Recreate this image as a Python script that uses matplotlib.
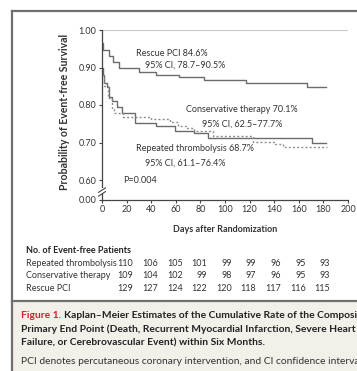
import matplotlib
matplotlib.use("Agg")
import matplotlib.pyplot as plt
from matplotlib.transforms import blended_transform_factory
from matplotlib.lines import Line2D
from matplotlib.patches import Rectangle

plt.rcParams["font.family"] = ["Lato", "DejaVu Sans"]

# Kaplan-Meier curves
rescue_days = [0, 0.5, 6, 9, 14, 30, 44, 63, 83, 117, 167, 182]
rescue_surv = [0.965, 0.947, 0.93, 0.915, 0.898, 0.889, 0.88, 0.874, 0.868, 0.859, 0.847, 0.847]

thromb_days = [0, 1, 2, 4, 6, 8, 12, 16, 27, 44, 59, 75, 86, 171, 182]
thromb_surv = [0.90, 0.88, 0.86, 0.848, 0.822, 0.81, 0.795, 0.778, 0.751, 0.744, 0.731, 0.725, 0.713, 0.70, 0.70]

conserv_days = [0, 2, 5, 8, 10, 17, 40, 55, 62, 68, 75, 90, 123, 141, 147, 183]
conserv_surv = [0.88, 0.85, 0.82, 0.79, 0.78, 0.769, 0.763, 0.755, 0.745, 0.738, 0.731, 0.717, 0.702, 0.696, 0.687, 0.687]

# number at risk table
risk_days = [20, 40, 60, 80, 100, 120, 140, 160, 180]
risk_labels = ["Repeated thrombolysis", "Conservative therapy", "Rescue PCI"]
risk_thromb = [110, 106, 105, 101, 99, 99, 96, 95, 93]
risk_conserv = [109, 104, 102, 99, 98, 97, 96, 95, 93]
risk_rescue = [129, 127, 124, 122, 120, 118, 117, 116, 115]

ytick_vals = [0.548, 0.60, 0.70, 0.80, 0.90, 1.00]
ytick_labels = ["0.00", "0.60", "0.70", "0.80", "0.90", "1.00"]
xtick_vals = list(range(0, 201, 20))

W, H = 357, 371
TXT = "#333333"
FS = 6.5
CFS = 7.35


def fx(x):
    return x / W


def fy(y):
    return 1 - y / H


fig = plt.figure(figsize=(W / 100, H / 100), dpi=100)
fig.patch.set_facecolor("white")

# caption background and frame
fig.add_artist(Rectangle((fx(12), 0), 1, fy(301), transform=fig.transFigure,
                         facecolor="#f3f0ea", edgecolor="none"))
for xs, ys in [([12, 12], [11, 371]), ([12, 357], [11, 11]), ([12, 357], [301, 301])]:
    fig.add_artist(Line2D([fx(v) for v in xs], [fy(v) for v in ys], transform=fig.transFigure,
                          color="#6f6f6f", lw=1.6))

ax = fig.add_axes([fx(102), fy(199.5), fx(348) - fx(102), fy(30) - fy(199.5)])
ax.set_xlim(0, 200)
ax.set_ylim(0.548, 1.0)
ax.spines[["top", "right"]].set_visible(False)
for s in ["left", "bottom"]:
    ax.spines[s].set_color("#444444")
    ax.spines[s].set_linewidth(0.9)
ax.axhline(1.0, color="#c8c8c8", lw=0.8, xmax=0.995)

ax.step(rescue_days, rescue_surv, where="post", color="#6c6c6c", lw=1.0)
ax.step(thromb_days, thromb_surv, where="post", color="#6c6c6c", lw=1.0)
ax.step(conserv_days, conserv_surv, where="post", color="#8a8a8a", lw=1.0,
        linestyle=(0, (1.4, 1.6)))

ax.set_yticks(ytick_vals)
ax.set_yticklabels(ytick_labels)
ax.set_xticks(xtick_vals)
ax.tick_params(axis="both", direction="out", length=2.5, width=0.8, color="#444444",
               labelsize=FS, labelcolor=TXT, pad=1.5)

# axis break marks
bt = blended_transform_factory(ax.transAxes, ax.transData)
ax.add_patch(Rectangle((-0.01, 0.566), 0.02, 0.012, transform=bt, facecolor="white",
                       edgecolor="none", clip_on=False, zorder=5))
for yb in [0.563, 0.573]:
    ax.plot([-0.014, 0.014], [yb - 0.006, yb + 0.006], transform=bt, color="#444444",
            lw=0.8, clip_on=False, zorder=6)

fig.text(fx(64), fy(111.5), "Probability of Event-free Survival", rotation=90, ha="center",
         va="center", fontsize=7.6, fontweight="bold", color=TXT)
fig.text(fx(225), fy(230), "Days after Randomization", ha="center", va="center",
         fontsize=FS, fontweight="bold", color=TXT)

# annotations
notes = [(27.6, 0.938, "Rescue PCI 84.6%"), (35, 0.905, "95% CI, 78.7\u201390.5%"),
         (68.3, 0.787, "Conservative therapy 70.1%"), (81, 0.749, "95% CI, 62.5\u201377.7%"),
         (27.6, 0.685, "Repeated thrombolysis 68.7%"), (35, 0.645, "95% CI, 61.1\u201376.4%"),
         (17, 0.60, "P=0.004")]
for x, y, t in notes:
    ax.text(x, y, t, fontsize=FS, color=TXT, va="center", ha="left")

# number at risk table
fig.text(fx(26), fy(250.7), "No. of Event-free Patients", fontsize=FS, fontweight="bold",
         color="#222222", va="center")
tt = blended_transform_factory(ax.transData, fig.transFigure)
for row_y, lab, vals in zip([263.5, 276, 288.5], risk_labels,
                            [risk_thromb, risk_conserv, risk_rescue]):
    fig.text(fx(26), fy(row_y), lab, fontsize=FS, color=TXT, va="center")
    for d, v in zip(risk_days, vals):
        ax.text(d + 5.5, fy(row_y), str(v), transform=tt, fontsize=FS, color=TXT,
                va="center", ha="right", clip_on=False)

# caption
fig.canvas.draw()
r = fig.canvas.get_renderer()
t1 = fig.text(fx(21), fy(315), "Figure 1.", fontsize=CFS, fontweight="bold", color="#d0202e",
              va="center")
bb = t1.get_window_extent(renderer=r)
fig.text((bb.x1 + 2.5) / W, fy(315),
         "Kaplan\u2013Meier Estimates of the Cumulative Rate of the Composite",
         fontsize=CFS, fontweight="bold", color="#222222", va="center")
fig.text(fx(21), fy(329.3),
         "Primary End Point (Death, Recurrent Myocardial Infarction, Severe Heart",
         fontsize=CFS, fontweight="bold", color="#222222", va="center")
fig.text(fx(21), fy(343.3), "Failure, or Cerebrovascular Event) within Six Months.",
         fontsize=CFS, fontweight="bold", color="#222222", va="center")
fig.text(fx(21), fy(361.7),
         "PCI denotes percutaneous coronary intervention, and CI confidence intervals.",
         fontsize=CFS, color="#333333", va="center")

fig.savefig("out.png", dpi=100)
